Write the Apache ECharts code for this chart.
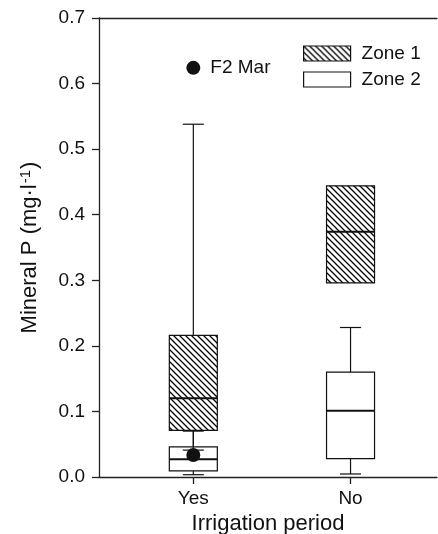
<!DOCTYPE html>
<html>
<head>
<meta charset="utf-8">
<script src="https://cdn.jsdelivr.net/npm/echarts@6/dist/echarts.min.js"></script>
<style>html,body{margin:0;padding:0;background:#fff}#c{width:438px;height:534px}</style>
</head>
<body>
<div id="c"></div>
<script>
// ---- data ----
const categories = ['Yes', 'No'];
const catPos = [1, 2];
const zone1Min = [0.041, 0.296];
const zone1Q1 = [0.071, 0.296];
const zone1Med = [0.120, 0.374];
const zone1Q3 = [0.216, 0.444];
const zone1Max = [0.538, 0.444];
const zone2Min = [0.0035, 0.0046];
const zone2Q1 = [0.0092, 0.028];
const zone2Med = [0.027, 0.101];
const zone2Q3 = [0.046, 0.160];
const zone2Max = [0.070, 0.228];
const outlierX = [1, 1];
const outlierY = [0.624, 0.0335];
const outlierLabel = ['F2 Mar', ''];
const yTicks = [0, 0.1, 0.2, 0.3, 0.4, 0.5, 0.6, 0.7];

const FONT = "'Liberation Sans', Arial, sans-serif";

// hatch pattern
const pc = document.createElement('canvas');
pc.width = 6; pc.height = 6;
const g = pc.getContext('2d');
g.fillStyle = '#fff'; g.fillRect(0, 0, 6, 6);
g.strokeStyle = '#000'; g.lineWidth = 1.3;
g.beginPath();
for (let o = -6; o <= 6; o += 6) { g.moveTo(o - 1, -1); g.lineTo(o + 7, 7); }
g.stroke();
const hatch = { image: pc, repeat: 'repeat' };

function build(mins, q1s, meds, q3s, maxs) {
  return catPos.map((x, i) => [x, mins[i], q1s[i], meds[i], q3s[i], maxs[i]]);
}

function makeRender(fill) {
  return function (params, api) {
    const x = api.value(0);
    const vMin = api.value(1), vQ1 = api.value(2), vMed = api.value(3), vQ3 = api.value(4), vMax = api.value(5);
    const cx = api.coord([x, vMed])[0];
    const yMin = api.coord([x, vMin])[1];
    const yQ1 = api.coord([x, vQ1])[1];
    const yMed = api.coord([x, vMed])[1];
    const yQ3 = api.coord([x, vQ3])[1];
    const yMax = api.coord([x, vMax])[1];
    const hw = 24, cap = 10.5;
    const ls = { stroke: '#111', lineWidth: 1.2 };
    const ch = [];
    if (vMax > vQ3) {
      ch.push({ type: 'line', shape: { x1: cx, y1: yQ3, x2: cx, y2: yMax }, style: ls });
      ch.push({ type: 'line', shape: { x1: cx - cap, y1: yMax, x2: cx + cap, y2: yMax }, style: ls });
    }
    if (vMin < vQ1) {
      ch.push({ type: 'line', shape: { x1: cx, y1: yQ1, x2: cx, y2: yMin }, style: ls });
      ch.push({ type: 'line', shape: { x1: cx - cap, y1: yMin, x2: cx + cap, y2: yMin }, style: ls });
    }
    ch.push({ type: 'rect', shape: { x: cx - hw, y: yQ3, width: 2 * hw, height: yQ1 - yQ3 },
      style: { fill: fill, stroke: '#111', lineWidth: 1.2 } });
    ch.push({ type: 'line', shape: { x1: cx - hw, y1: yMed, x2: cx + hw, y2: yMed }, style: { stroke: '#111', lineWidth: 2 } });
    return { type: 'group', children: ch };
  };
}

const chart = echarts.init(document.getElementById('c'), null, { renderer: 'canvas' });
chart.setOption({
  animation: false,
  backgroundColor: '#fff',
  textStyle: { fontFamily: FONT },
  grid: { left: 99, right: 1, top: 18, bottom: 57, containLabel: false, outerBoundsMode: 'none' },
  legend: {
    orient: 'vertical', left: 303, top: 44, padding: 0,
    itemWidth: 47, itemHeight: 15, itemGap: 7,
    textStyle: { fontSize: 19, color: '#111', fontFamily: FONT, padding: [0, 0, 0, 6] },
    data: [
      { name: 'Zone 1', icon: 'rect', itemStyle: { color: hatch, borderColor: '#111', borderWidth: 1.2 } },
      { name: 'Zone 2', icon: 'rect', itemStyle: { color: '#fff', borderColor: '#111', borderWidth: 1.2 } }
    ]
  },
  xAxis: [{
    type: 'value', min: 0.4, max: 2.55,
    name: 'Irrigation period', nameLocation: 'middle', nameGap: 33,
    nameTextStyle: { fontSize: 22, color: '#111', fontFamily: FONT },
    axisLine: { show: true, lineStyle: { color: '#222', width: 1.3 } },
    axisTick: { show: true, length: 7, customValues: catPos, lineStyle: { color: '#222', width: 1.3 } },
    axisLabel: { show: true, customValues: catPos, fontSize: 19, color: '#111', margin: 12,
      formatter: v => categories[catPos.indexOf(v)] || '' },
    splitLine: { show: false }
  }, {
    type: 'value', min: 0.4, max: 2.55, position: 'top',
    axisLine: { show: true, onZero: false, lineStyle: { color: '#222', width: 1.3 } },
    axisTick: { show: false }, axisLabel: { show: false }, splitLine: { show: false }
  }],
  yAxis: {
    type: 'value', min: 0, max: 0.7, interval: 0.1,
    name: '{a|Mineral P (mg·l}{s|-1}{a|)}', nameLocation: 'middle', nameGap: 57,
    nameTextStyle: { rich: {
      a: { fontSize: 22, color: '#111', fontFamily: FONT },
      s: { fontSize: 15, color: '#111', fontFamily: FONT, verticalAlign: 'top', padding: [0, 1, 9, 1] }
    } },
    axisLine: { show: true, lineStyle: { color: '#222', width: 1.3 } },
    axisTick: { show: true, length: 7, lineStyle: { color: '#222', width: 1.3 } },
    axisLabel: { fontSize: 19, color: '#111', margin: 14, formatter: v => v.toFixed(1) },
    splitLine: { show: false }
  },
  series: [
    { type: 'custom', name: 'Zone 2', xAxisIndex: 0, renderItem: makeRender('#fff'),
      itemStyle: { color: '#fff' }, encode: { x: 0, y: [1, 2, 3, 4, 5] },
      data: build(zone2Min, zone2Q1, zone2Med, zone2Q3, zone2Max), z: 2 },
    { type: 'custom', name: 'Zone 1', xAxisIndex: 0, renderItem: makeRender(hatch),
      itemStyle: { color: '#888' }, encode: { x: 0, y: [1, 2, 3, 4, 5] },
      data: build(zone1Min, zone1Q1, zone1Med, zone1Q3, zone1Max), z: 3 },
    { type: 'scatter', name: 'outliers', xAxisIndex: 0, symbol: 'circle', symbolSize: 14,
      itemStyle: { color: '#111', opacity: 1 }, z: 4,
      label: { show: true, position: 'right', distance: 10, fontSize: 19, color: '#111', fontFamily: FONT,
        opacity: 1, formatter: p => outlierLabel[p.dataIndex] },
      data: outlierX.map((x, i) => [x, outlierY[i]]) }
  ]
});
</script>
</body>
</html>
